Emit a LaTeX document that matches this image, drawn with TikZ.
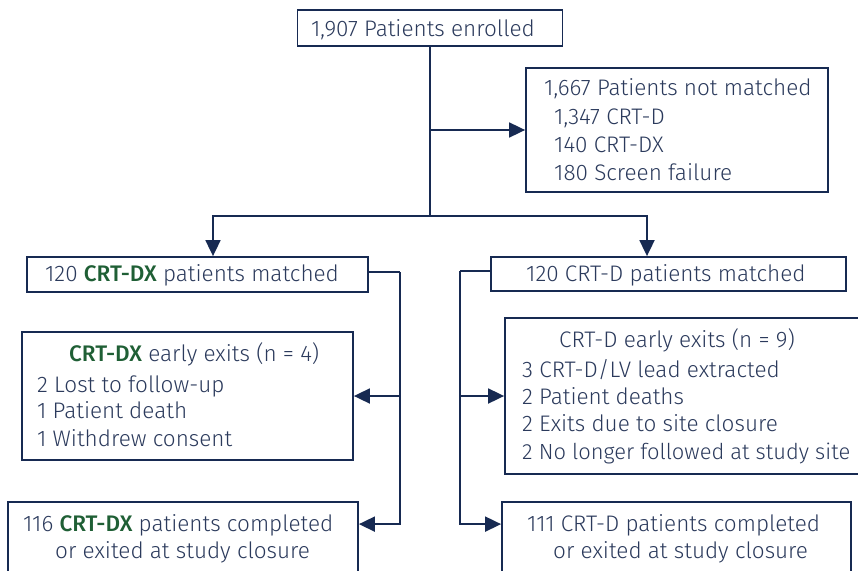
\documentclass[tikz,border=0pt]{standalone}
\usepackage{fontspec}
\IfFontExistsTF{Fira Sans Light}
  {\setmainfont{Fira Sans Light}[BoldFont=Fira Sans Medium]}
  {\setmainfont{Fira Sans}}
\usetikzlibrary{arrows.meta,calc}
\definecolor{navy}{HTML}{172A52}
\definecolor{ink}{HTML}{2B3A5C}
\definecolor{dxgreen}{HTML}{1F5F35}
\newcommand{\dx}{\textbf{\color{dxgreen}CRT-DX}}
\tikzset{
  box/.style={draw=navy, line width=1.8pt, inner sep=0pt, fill=white},
  txt/.style={anchor=base west, inner sep=0pt, text=ink, font=\fontsize{22.5}{27}\selectfont},
  link/.style={draw=navy, line width=1.8pt},
  arr/.style={link, -{Triangle[length=16pt,width=15pt]}}
}
\begin{document}
\begin{tikzpicture}[x=1pt,y=-1pt]
\clip (0,0) rectangle (858,570);
\fill[white] (0,0) rectangle (858,570);

% boxes
\node[box, minimum width=265pt, minimum height=36pt] (top) at (430,28) {};
\node[box, minimum width=302pt, minimum height=124pt] (nm) at (677,130) {};
\node[box, minimum width=341pt, minimum height=35pt] (lm) at (197.5,274.5) {};
\node[box, minimum width=355pt, minimum height=34pt] (rm) at (668.5,274) {};
\node[box, minimum width=331pt, minimum height=128pt] (lx) at (187.5,396) {};
\node[box, minimum width=370pt, minimum height=156pt] (rx) at (690,396) {};
\node[box, minimum width=350pt, minimum height=88pt] (lc) at (183,546) {};
\node[box, minimum width=349pt, minimum height=88pt] (rc) at (676.5,546) {};

% texts
\node[txt] (t1) at (311,36) {1,907 Patients enrolled};

\node[txt] (n0) at (544,95) {1,667 Patients not matched};
\node[txt] (n1) at (554,124) {1,347 CRT-D};
\node[txt] (n2) at (554,152.5) {140 CRT-DX};
\node[txt] (n3) at (554,180.5) {180 Screen failure};

\node[txt] (lmt) at (45,281) {120 \dx{} patients matched};
\node[txt] (rmt) at (526,281.5) {120 CRT-D patients matched};

\node[txt] (lx0) at (69,361) {\dx{} early exits (n = 4)};
\node[txt] (lx1) at (37,392) {2 Lost to follow-up};
\node[txt] (lx2) at (37,418.5) {1 Patient death};
\node[txt] (lx3) at (37,446) {1 Withdrew consent};

\node[txt] (rx0) at (559,347) {CRT-D early exits (n = 9)};
\node[txt] (rx1) at (522,377) {3 CRT-D/LV lead extracted};
\node[txt] (rx2) at (522,404) {2 Patient deaths};
\node[txt] (rx3) at (522,431.5) {2 Exits due to site closure};
\node[txt, font=\fontsize{21.9}{27}\selectfont] (rx4) at (522,459) {2 No longer followed at study site};

\node[txt] (lc0) at (23,531) {116 \dx{} patients completed};
\node[txt] (lc1) at (55,558) {or exited at study closure};
\node[txt] (rc0) at (527,531) {111 CRT-D patients completed};
\node[txt] (rc1) at (553,558) {or exited at study closure};

% connectors
\coordinate (split) at (top.south |- 0,216);
\draw[link] (top.south) -- (split);
\draw[arr] (top.south) |- (nm.west);
\draw[arr] (split) -| ([xshift=15.5pt]lm.north);
\draw[arr] (split) -| ([xshift=-21.5pt]rm.north);

\coordinate (lbus) at ([xshift=31pt,yshift=2.5pt]lm.east);
\draw[link] ([yshift=2.5pt]lm.east) -- (lbus);
\draw[arr] (lbus) |- (lx.east);
\draw[arr] (lbus) |- ([yshift=-23pt]lc.north east);

\coordinate (rbus) at ([xshift=-30pt,yshift=3pt]rm.west);
\draw[link] ([yshift=3pt]rm.west) -- (rbus);
\draw[arr] (rbus) |- (rx.west);
\draw[arr] (rbus) |- ([yshift=-23pt]rc.north west);
\end{tikzpicture}
\end{document}
